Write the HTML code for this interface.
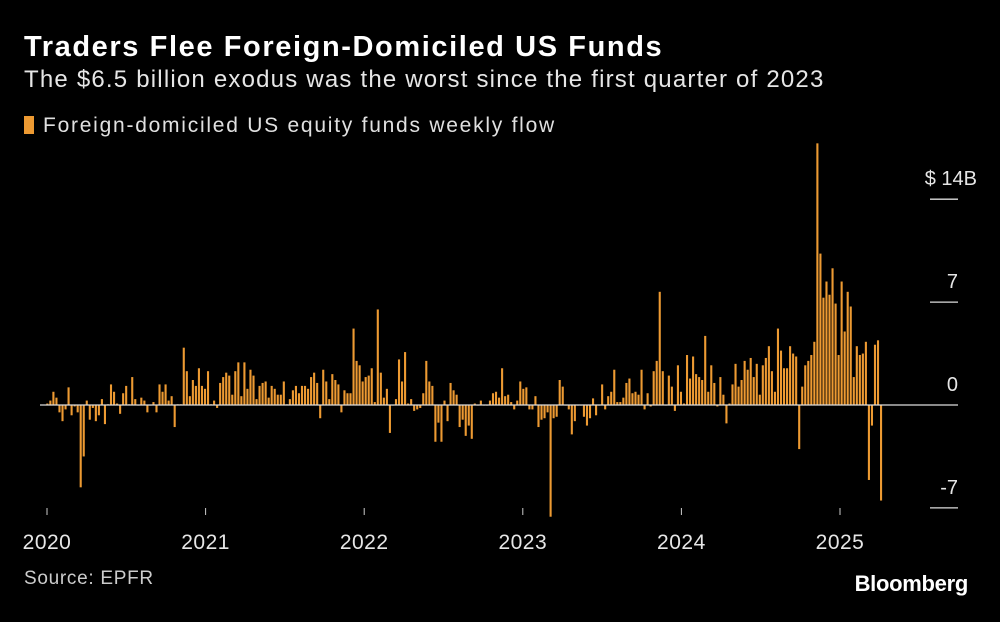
<!DOCTYPE html>
<html><head><meta charset="utf-8"><style>
body{margin:0;background:#000;width:1000px;height:622px;overflow:hidden;font-family:"Liberation Sans",sans-serif;color:#fff}
.t{position:absolute;white-space:nowrap}
</style></head><body>
<div class="t" style="left:24px;top:31px;font-size:29px;font-weight:bold;letter-spacing:1.6px">Traders Flee Foreign-Domiciled US Funds</div>
<div class="t" style="left:24px;top:66px;font-size:24px;letter-spacing:1.2px;color:#e6e6e6">The $6.5 billion exodus was the worst since the first quarter of 2023</div>
<div class="t" style="left:24px;top:114px;font-size:21px;letter-spacing:1.75px;color:#e0e0e0"><span style="display:inline-block;width:10px;height:18px;background:#ed9a32;vertical-align:-2px;margin-right:9px"></span>Foreign-domiciled US equity funds weekly flow</div>
<div class="t" style="left:24px;top:568px;font-size:19px;letter-spacing:0.7px;color:#ccc">Source: EPFR</div>
<div class="t" style="right:32px;top:571px;font-size:22px;font-weight:bold;letter-spacing:-0.3px">Bloomberg</div>
<svg id="chart" width="1000" height="622" style="position:absolute;left:0;top:0"></svg>
<script>
const years=["2020","2021","2022","2023","2024","2025"];
const yTicks=[14,7,0,-7];
const yLabels=["$ 14B","7","0","-7"];
const flows2020=[0.1,0.3,0.9,0.5,-0.5,-1.1,-0.3,1.2,-0.7,-0.1,-0.5,-5.6,-3.5,0.3,-1,-0.2,-1.1,-0.7,0.4,-1.3,0.05,1.4,0.9,0.1,-0.6,0.8,1.3,0.05,1.9,0.4,0,0.5,0.3,-0.5,0,0.2,-0.5,1.4,0.9,1.4,0.3,0.6,-1.5,0.05,0.05,3.9,2.3,0.6,1.7,1.3,2.5,1.3,1.1,2.3,0.05,0.3,-0.2];
const flows2021=[1.5,1.9,2.2,2.0,0.7,2.3,2.9,0.6,2.9,1.1,2.4,2.0,0.4,1.3,1.5,1.6,0.5,1.3,1.1,0.7,0.7,1.6,0.05,0.4,1.0,1.3,0.8,1.3,1.3,1.1,1.9,2.2,1.5,-0.9,2.4,1.6,0.4,2.1,1.7,1.4,-0.5,1.0,0.8,0.8,5.2,3.0,2.7,1.6,1.9,2.0,2.5,0.2,6.5,2.2,0.5,1.1,-1.9];
const flows2022=[0,0.4,3.1,1.6,3.6,0.1,0.4,-0.4,-0.3,-0.2,0.8,3.0,1.6,1.3,-2.5,-1.2,-2.5,0.3,-1.1,1.5,1.0,0.7,-1.5,-1.0,-2.1,-1.4,-2.3,0.1,0,0.3,0,0,0.3,0.8,0.9,0.5,2.5,0.6,0.7,0.2,-0.3,0.3,1.6,1.1,1.2,-0.3,-0.3,0.6,-1.5,-1.0,-0.9,-0.5,-7.6,-0.9,-0.8];
const flows2023=[1.7,1.25,0,-0.3,-2.0,-1.1,0,0,-0.8,-1.4,-0.9,0.45,-0.7,0,1.4,-0.3,0.6,0.9,2.4,0.2,0.2,0.5,1.5,1.8,0.8,0.9,0.7,2.4,-0.3,0.8,-0.1,2.3,3.0,7.7,2.3,0,2.0,1.25,-0.4,2.7,0.9,0.1,3.4,1.8,3.3,2.1,1.9,1.7,4.7,0.9,2.7,1.5,-0.1,1.9,0.7,-1.25];
const flows2024=[0.1,1.4,2.8,1.25,1.7,3.0,2.4,3.2,1.9,2.8,0.7,2.7,3.2,4.0,2.3,0.9,5.2,3.7,2.5,2.5,4.0,3.5,3.3,-3.0,1.25,2.7,3.0,3.4,4.3,17.8,10.3,7.3,8.4,7.5,9.3,6.9,3.4,8.4,5.0,7.7,6.7,1.9,4.0,3.4,3.5,4.3,-5.1,-1.4,4.1,4.4,-6.5];
const flows=[].concat(flows2020,flows2021,flows2022,flows2023,flows2024);
const svg=document.getElementById('chart');
const NS='http://www.w3.org/2000/svg';
const zeroY=405, unit=14.7, x0=47.3, x1=881;
const yScale=v=>zeroY-v*unit;
const xScale=i=>x0+i*(x1-x0)/(flows.length-1);
const yearX=k=>47+k*158.6;
function mk(tag,attrs){const e=document.createElementNS(NS,tag);for(const k in attrs)e.setAttribute(k,attrs[k]);svg.appendChild(e);return e;}
flows.forEach((v,i)=>{
  const y=yScale(Math.max(v,0)), h=Math.max(Math.abs(v)*unit,0.6);
  const r=mk('rect',{x:(xScale(i)-1).toFixed(2),y:y.toFixed(2),width:2.1,height:h.toFixed(2),fill:'#ed9a32'});
  
  
});
const zl=mk('line',{x1:40,x2:958,y1:zeroY,y2:zeroY,stroke:'#ddd','stroke-width':1.3});


yTicks.forEach((t,k)=>{
  if(t!==0){const l=mk('line',{x1:930,x2:958,y1:yScale(t),y2:yScale(t),stroke:'#ddd','stroke-width':1.3});
    
    }
  const tx=mk('text',{x:t===14?977:958,y:yScale(t)-14,'text-anchor':'end','font-size':20,fill:'#e6e6e6','font-family':'Liberation Sans, sans-serif'});
  tx.textContent=yLabels[k];
  
  
});
years.forEach((yr,k)=>{
  const x=yearX(k);
  const tk=mk('line',{x1:x,x2:x,y1:508,y2:515,stroke:'#ccc','stroke-width':1});
  
  
  const tx=mk('text',{x:x,y:549,'text-anchor':'middle','font-size':21,'letter-spacing':0.5,fill:'#e6e6e6','font-family':'Liberation Sans, sans-serif'});
  tx.textContent=yr;
  
  
});
</script>
</body></html>
